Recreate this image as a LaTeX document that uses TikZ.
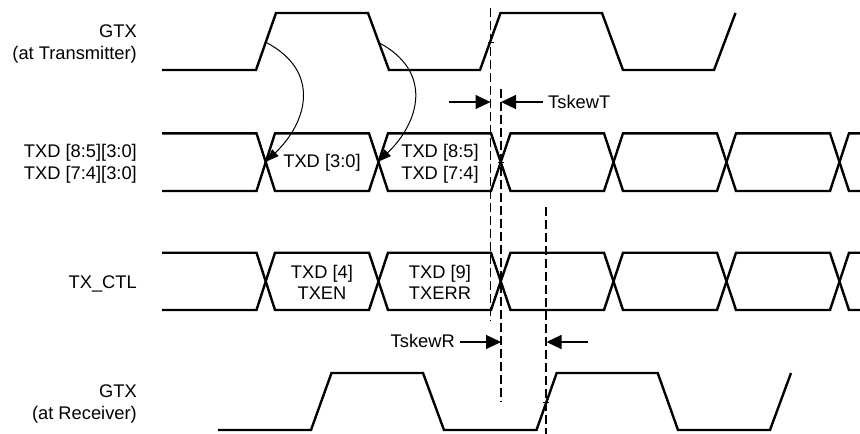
\documentclass[tikz,border=0pt]{standalone}
\usepackage{fontspec}
\setmainfont{Liberation Sans}
\usetikzlibrary{arrows.meta}
\newcommand\mybus[2]{%
  \draw[wave] (162,#1) -- (256.5,#1) -- (275,#2) -- (369,#2) -- (388,#1) -- (491,#1) -- (510.5,#2) -- (604,#2) -- (623,#1) -- (717,#1) -- (736,#2) -- (830,#2) -- (849,#1) -- (860,#1);
  \draw[wave] (162,#2) -- (256.5,#2) -- (275,#1) -- (369,#1) -- (388,#2) -- (491,#2) -- (510.5,#1) -- (604,#1) -- (623,#2) -- (717,#2) -- (736,#1) -- (830,#1) -- (849,#2) -- (860,#2);}
\begin{document}
\begin{tikzpicture}[x=1pt,y=-1pt,
  wave/.style={line width=2.4pt},
  guide/.style={line width=1.3pt, dash pattern=on 9pt off 4pt, black},
  tick/.style={line width=1pt},
  lbl/.style={inner sep=0pt, font=\fontsize{18.3}{22}\selectfont},
  skew/.style={line width=1.2pt, -{Triangle[length=15pt,width=14pt]}},
  cause/.style={line width=1pt, -{Triangle[length=13pt,width=9pt]}}]
\useasboundingbox (0,0) rectangle (860,434);

% signal labels
\node[lbl, anchor=base east] (gtxT1) at (137,37) {GTX};
\node[lbl, anchor=base east] (gtxT2) at (137,59) {(at Transmitter)};
\node[lbl, anchor=base east] (txd1) at (137,157) {TXD [8:5][3:0]};
\node[lbl, anchor=base east] (txd2) at (137,179) {TXD [7:4][3:0]};
\node[lbl, anchor=base east] (ctl) at (137,288) {TX\_CTL};
\node[lbl, anchor=base east] (gtxR1) at (137,397) {GTX};
\node[lbl, anchor=base east] (gtxR2) at (137,419) {(at Receiver)};

% GTX at transmitter
\draw[wave] (162,70) -- (256,70) -- (276,13) -- (368,13) -- (389,70) -- (480,70) -- (500.5,13) -- (602,13) -- (623,70) -- (714,70) -- (735.5,13);

% TXD bus and TX_CTL bus
\mybus{133.3}{191}
\mybus{252.7}{310}

% GTX at receiver
\draw[wave] (218,430) -- (311,430) -- (331.5,373) -- (423,373) -- (444,430) -- (536.5,430) -- (556.7,373) -- (657.7,373) -- (678,430) -- (770,430) -- (791,373);

% bus contents
\node[lbl, anchor=base] (d30) at (322,167.7) {TXD [3:0]};
\node[lbl, anchor=base] (d85) at (440,157.3) {TXD [8:5]};
\node[lbl, anchor=base] (d74) at (440,179.5) {TXD [7:4]};
\node[lbl, anchor=base] (d4) at (322,278.3) {TXD [4]};
\node[lbl, anchor=base] (en) at (322,299.5) {TXEN};
\node[lbl, anchor=base] (d9) at (440,278.3) {TXD [9]};
\node[lbl, anchor=base] (err) at (440,299.5) {TXERR};

% dashed guides
\coordinate (g1a) at (490.5,8);   \coordinate (g1b) at (490.5,321);
\coordinate (g2a) at (501,89);    \coordinate (g2b) at (501,402);
\coordinate (g3a) at (546,207);   \coordinate (g3b) at (546,434);
\draw[guide] (g1a) -- (g1b);
\draw[guide] (g2a) -- (g2b);
\draw[guide] (g3a) -- (g3b);

% ticks
\draw[tick] (487.5,42) -- (493.5,42);
\draw[tick] (498,162) -- (504,162);
\draw[tick] (543,402) -- (549,402);

% TskewT
\node[lbl, anchor=base west] (skT) at (548,108.3) {TskewT};
\coordinate (tTl) at (449,102);  \coordinate (tTa) at (490.5,102);
\coordinate (tTr) at (543,102);  \coordinate (tTb) at (501,102);
\draw[skew] (tTl) -- (tTa);
\draw[skew] (tTr) -- (tTb);

% TskewR
\node[lbl, anchor=base east] (skR) at (455,347.3) {TskewR};
\coordinate (tRl) at (460,342);  \coordinate (tRa) at (501,342);
\coordinate (tRr) at (588,342);  \coordinate (tRb) at (546.5,342);
\draw[skew] (tRl) -- (tRa);
\draw[skew] (tRr) -- (tRb);

% causal arrows
\coordinate (c1s) at (266.7,42.7); \coordinate (c1e) at (266,161.7);
\coordinate (c2s) at (379,42.7);   \coordinate (c2e) at (378.3,161.7);
\draw[cause] (c1s) .. controls (321.3,71.8) and (307.3,122.2) .. (c1e);
\draw[cause] (c2s) .. controls (433.6,71.8) and (419.6,122.2) .. (c2e);
\end{tikzpicture}
\end{document}
